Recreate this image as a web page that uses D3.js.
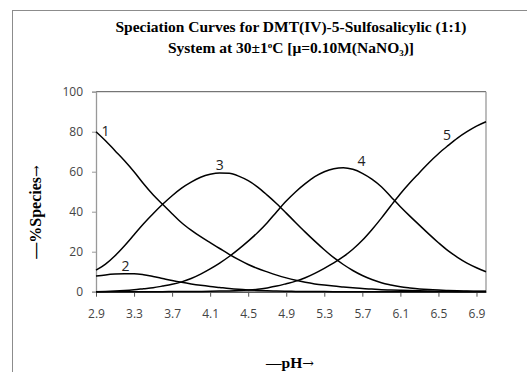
<!DOCTYPE html>
<html><head><meta charset="utf-8">
<script src="https://cdn.jsdelivr.net/npm/d3@7"></script>
<style>body{margin:0;background:#fff;}svg{display:block;}</style>
</head><body>
<svg id="c" width="527" height="372"></svg>
<script>
const pH = [2.9,3.0,3.1,3.2,3.3,3.4,3.5,3.6,3.7,3.8,3.9,4.0,4.1,4.2,4.3,4.4,4.5,4.6,4.7,4.8,4.9,5.0,5.1,5.2,5.3,5.4,5.5,5.6,5.7,5.8,5.9,6.0,6.1,6.2,6.3,6.4,6.5,6.6,6.7,6.8,6.9,7.0];
const species1 = [80,75.5,70.5,65.5,60,54,48.5,43.7,39,34.5,30.8,27.5,24.5,21.6,18.7,16,13.6,11.6,9.9,8.3,6.9,5.7,4.7,3.9,3.3,2.8,2.4,2.0,1.6,1.3,1.0,0.85,0.7,0.55,0.42,0.32,0.24,0.18,0.13,0.09,0.06,0.04];
const species2 = [7.8,8.4,8.8,9.0,9.0,8.5,7.6,6.6,5.6,4.7,3.9,3.2,2.6,2.1,1.6,1.2,0.9,0.65,0.47,0.33,0.23,0.16,0.11,0.07,0.05,0.03,0.02,0.02,0.01,0.01,0,0,0,0,0,0,0,0,0,0,0,0];
const species3 = [10.8,13.8,18,23,28.5,34,39,43.7,48,51.8,54.8,57.2,58.7,59.4,59.2,57.8,55.5,52.3,48.3,44,39.3,34.5,29.8,25.3,21,17,13.6,10.6,8.1,6.1,4.5,3.4,2.5,1.9,1.4,1.05,0.8,0.6,0.45,0.35,0.25,0.2];
const species4 = [0,0.1,0.3,0.6,1.0,1.5,2.0,2.8,3.7,4.9,6.6,8.8,11.4,14.3,17.6,21.3,25.3,29.6,34.5,40,45.3,50,54,57.5,60,61.5,62,61.2,59.2,56.3,52.5,47.5,42.5,37.8,33.3,28.8,24.5,20.5,17.2,14.3,12,10];
const species5 = [0,0,0,0,0,0,0,0.02,0.05,0.08,0.1,0.15,0.22,0.3,0.4,0.55,0.8,1.2,1.9,2.8,4,5.3,7.0,9.2,11.7,14.4,17.5,21.2,25.7,31,36.8,43,49,54.5,59.5,64.5,69,73,76.8,80,82.8,85];
const seriesNames = ["1","2","3","4","5"];
const labelPos = [[3.0,77.8],[3.21,10.5],[4.2,61],[5.69,62.8],[6.59,76]];
const xTicks = [2.9,3.3,3.7,4.1,4.5,4.9,5.3,5.7,6.1,6.5,6.9];
const yTicks = [0,20,40,60,80,100];

const series = [species1,species2,species3,species4,species5];
const svg = d3.select("#c");
const L=96,R=486,T=91.7,B=291.7;
const x = d3.scaleLinear().domain([2.9,7.0]).range([L,R]);
const y = d3.scaleLinear().domain([0,100]).range([B,T]);

// outer chart border
svg.append("rect").attr("x",12.5).attr("y",10.5).attr("width",600).attr("height",400)
  .attr("fill","none").attr("stroke","#8c8c8c").attr("stroke-width",1);

// title
const title = svg.append("text").attr("text-anchor","middle")
  .attr("font-family","Liberation Serif, Times New Roman, serif").attr("font-weight","bold").attr("font-size",15.5).attr("fill","#000");
title.append("tspan").attr("x",291).attr("y",32).text("Speciation Curves for DMT(IV)-5-Sulfosalicylic (1:1)");
const t2 = title.append("tspan").attr("x",291).attr("y",53);
t2.append("tspan").text("System at 30\u00b11");
t2.append("tspan").attr("font-size",9).attr("dy",-5).text("o");
t2.append("tspan").attr("dy",5).text("C [\u03bc=0.10M(NaNO");
t2.append("tspan").attr("font-size",9).attr("dy",3).text("3");
t2.append("tspan").attr("dy",-3).text(")]");

// plot borders
svg.append("line").attr("x1",L).attr("x2",R).attr("y1",T).attr("y2",T).attr("stroke","#555").attr("stroke-width",1);
svg.append("line").attr("x1",R).attr("x2",R).attr("y1",T).attr("y2",B).attr("stroke","#999").attr("stroke-width",1.3);

// y axis
const ya = svg.append("g").attr("transform",`translate(${L},0)`)
  .call(d3.axisLeft(y).tickValues(yTicks).tickSize(4).tickPadding(9).tickFormat(d3.format("d")));
ya.select(".domain").attr("stroke","#999").attr("stroke-width",1.3);
ya.selectAll(".tick line").attr("stroke","#999");
ya.selectAll("text").attr("font-family","Open Sans, sans-serif").attr("font-size",12).attr("fill","#444");

// x axis
const xa = svg.append("g").attr("transform",`translate(0,${B})`)
  .call(d3.axisBottom(x).tickValues(xTicks).tickSize(5).tickPadding(13).tickFormat(d3.format(".1f")).tickSizeOuter(0));
xa.select(".domain").attr("stroke","#222").attr("stroke-width",1.3);
xa.selectAll(".tick line").attr("stroke","#555");
xa.selectAll("text").attr("font-family","Open Sans, sans-serif").attr("font-size",12).attr("fill","#444");

// curves
const line = d3.line().x((d,i)=>x(pH[i])).y(d=>y(d)).curve(d3.curveMonotoneX);
svg.append("g").selectAll("path").data(series).join("path")
  .attr("d",line).attr("fill","none").attr("stroke","#000").attr("stroke-width",1.5);

// labels
svg.append("g").selectAll("text").data(seriesNames).join("text")
  .attr("x",(d,i)=>x(labelPos[i][0])).attr("y",(d,i)=>y(labelPos[i][1]))
  .attr("font-family","Open Sans, sans-serif").attr("font-size",14).attr("fill","#222")
  .attr("text-anchor","middle").text(d=>d);

// axis titles
const xt = svg.append("text").attr("x",290).attr("y",368).attr("text-anchor","middle")
  .attr("font-family","Liberation Serif, serif").attr("font-weight","bold").attr("font-size",15.5);
xt.append("tspan").text("\u2014pH");
xt.append("tspan").attr("font-family","DejaVu Serif, serif").attr("font-weight","normal").attr("font-size",14).text("\u2192");
const yt = svg.append("text").attr("transform","translate(41,212) rotate(-90)").attr("text-anchor","middle")
  .attr("font-family","Liberation Serif, serif").attr("font-weight","bold").attr("font-size",16);
yt.append("tspan").text("\u2014%Species");
yt.append("tspan").attr("font-family","DejaVu Serif, serif").attr("font-weight","normal").attr("font-size",14).text("\u2192");
</script>
</body></html>
